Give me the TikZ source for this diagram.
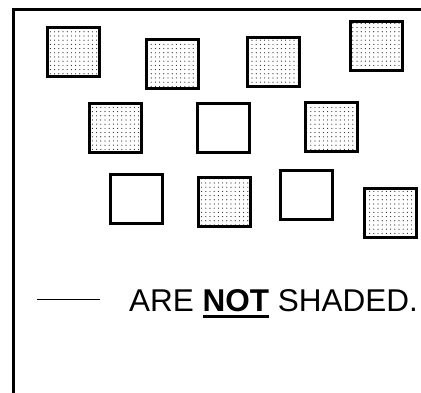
\documentclass[tikz,border=0pt]{standalone}
\usepackage{fontspec}
\setmainfont{Liberation Sans}
\usepackage{tikz}
\usetikzlibrary{patterns}
\newcommand{\thickul}[1]{\setbox0\hbox{#1}\rlap{\rule[-6pt]{\wd0}{3pt}}\box0\relax}
\pgfdeclarepatternformonly{sparse dots}{\pgfqpoint{-1pt}{-1pt}}{\pgfqpoint{1pt}{1pt}}{\pgfqpoint{4.2pt}{4.2pt}}{%
  \pgfpathcircle{\pgfqpoint{0pt}{0pt}}{0.6pt}
  \pgfpathcircle{\pgfqpoint{2.1pt}{2.1pt}}{0.6pt}
  \pgfusepath{fill}}

\begin{document}
\begin{tikzpicture}[
  x=1pt, y=-1pt,
  box/.style={draw, line width=3pt, minimum width=52pt, minimum height=49pt,
              inner sep=0pt},
  shaded/.style={box, pattern=sparse dots, pattern color=black!85},
  blank/.style={box, fill=white},
  caption/.style={font=\fontsize{31.5}{36}\selectfont, anchor=base west, inner sep=0pt},
]
\useasboundingbox (0,0) rectangle (421,393);
\draw[line width=3pt] (13,393) -- (13,10) -- (421,10);
% row 1
\node[shaded] (b1) at (73.5,52.5) {};
\node[shaded] (b2) at (172.5,64) {};
\node[shaded] (b3) at (273.5,62) {};
\node[shaded] (b4) at (376,46) {};
% row 2
\node[shaded] (b5) at (115,128.5) {};
\node[blank]  (b6) at (223,128.5) {};
\node[shaded] (b7) at (331,127) {};
% row 3
\node[blank]  (b8) at (136,199) {};
\node[shaded] (b9) at (224.5,202) {};
\node[blank]  (b10) at (306.5,195.5) {};
\node[shaded] (b11) at (390,213) {};
% answer line and text
\coordinate (gapL) at (37,299.5);
\coordinate (gapR) at (100,299.5);
\draw[line width=0.9pt] (gapL) -- (gapR);
\node[caption] (txt) at (129,312) {ARE \thickul{\textbf{NOT}} SHADED.};
\end{tikzpicture}
\end{document}
